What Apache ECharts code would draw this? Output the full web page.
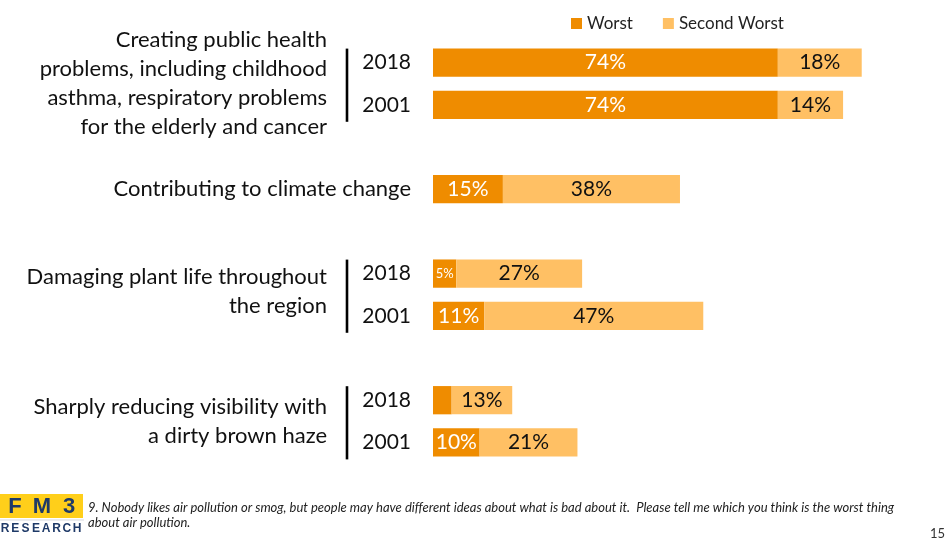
<!DOCTYPE html>
<html>
<head>
<meta charset="utf-8">
<script src="https://cdn.jsdelivr.net/npm/echarts@6/dist/echarts.min.js"></script>
<style>
html,body{margin:0;padding:0;background:#fff;}
#chart{width:948px;height:542px;}
</style>
</head>
<body>
<div id="chart"></div>
<script>
// ---- data ----
const categories = ['2018', '2001', '', 'Contributing to climate change', '', '2018', '2001', '', '2018', '2001'];
const worst = [74, 74, null, 15, null, 5, 11, null, 4, 10];
const secondWorst = [18, 14, null, 38, null, 27, 47, null, 13, 21];
const seriesNames = ['Worst', 'Second Worst'];
const groupLabels = [
  'Creating public health\nproblems, including childhood\nasthma, respiratory problems\nfor the elderly and cancer',
  'Damaging plant life throughout\nthe region',
  'Sharply reducing visibility with\na dirty brown haze'
];
const groupRows = [[0, 1], [5, 6], [8, 9]];
const hiddenWorstLabels = [8];
const smallWorstLabels = [5];
const footnote = '9. Nobody likes air pollution or smog, but people may have different ideas about what is bad about it.  Please tell me which you think is the worst thing\nabout air pollution.';
const pageNumber = '15';
const logoTop = ['F', 'M', '3'];
const logoBottom = ['R', 'E', 'S', 'E', 'A', 'R', 'C', 'H'];

const FONT = 'Lato, "Open Sans", "DejaVu Sans", sans-serif';
const C_WORST = '#EF8C00';
const C_SECOND = '#FFC064';

const chart = echarts.init(document.getElementById('chart'), null, {renderer: 'canvas'});

const worstData = worst.map((v, i) => {
  if (v == null) return null;
  const d = {value: v};
  if (hiddenWorstLabels.includes(i)) d.label = {show: false};
  else if (smallWorstLabels.includes(i)) d.label = {fontSize: 13};
  return d;
});

chart.setOption({
  animation: false,
  textStyle: {fontFamily: FONT},
  legend: {
    data: seriesNames,
    left: 566, top: 10,
    icon: 'rect', itemWidth: 11, itemHeight: 11, itemGap: 30,
    textStyle: {fontSize: 17, color: '#222', fontFamily: FONT}
  },
  grid: {left: 433, right: 49, top: 41.5, bottom: 78.5, containLabel: false},
  xAxis: {type: 'value', min: 0, max: 100, show: false, splitLine: {show: false}},
  yAxis: {
    type: 'category', data: categories, inverse: true,
    axisLine: {show: false}, axisTick: {show: false},
    axisLabel: {fontSize: 21, color: '#111', margin: 22, fontFamily: FONT,
      rich: {}, formatter: function (v) { return v; }}
  },
  series: [
    {
      name: seriesNames[0], type: 'bar', stack: 'a', data: worstData,
      barCategoryGap: '33%',
      itemStyle: {color: C_WORST},
      label: {show: true, position: 'inside', formatter: '{c}%', color: '#fff', fontSize: 21, fontFamily: FONT}
    },
    {
      name: seriesNames[1], type: 'bar', stack: 'a', data: secondWorst,
      itemStyle: {color: C_SECOND},
      label: {show: true, position: 'inside', formatter: '{c}%', color: '#111', fontSize: 21, fontFamily: FONT}
    }
  ]
});

// bigger font for the long single-row category label
chart.setOption({
  yAxis: {axisLabel: {
    formatter: function (v) { return v.length > 6 ? '{big|' + v + '}' : v; },
    rich: {big: {fontSize: 22, color: '#111', fontFamily: FONT}}
  }}
});

// group labels and separators placed from the axis scale
const gLeft = 433;
const elements = [];
groupRows.forEach((rows, gi) => {
  const yA = chart.convertToPixel({yAxisIndex: 0}, rows[0]);
  const yB = chart.convertToPixel({yAxisIndex: 0}, rows[1]);
  const mid = (yA + yB) / 2;
  elements.push({
    type: 'text',
    style: {
      text: groupLabels[gi], x: gLeft - 106, y: mid - (gi === 1 ? 3 : 0),
      textAlign: 'right', align: 'right', textVerticalAlign: 'middle', verticalAlign: 'middle',
      font: '22px ' + FONT, fill: '#111', lineHeight: 29
    }
  });
  elements.push({
    type: 'line',
    shape: {x1: gLeft - 86, y1: yA - 14, x2: gLeft - 86, y2: yB + 17},
    style: {stroke: '#000', lineWidth: 2.6}
  });
});

// footer: logo, footnote, page number
elements.push({type: 'rect', shape: {x: 0, y: 494, width: 83, height: 24}, style: {fill: '#FFCF1A'}});
logoTop.forEach((ch, i) => {
  elements.push({type: 'text', style: {text: ch, x: 15 + i * 27, y: 506.5, textAlign: 'center', align: 'center', textVerticalAlign: 'middle', verticalAlign: 'middle', font: 'bold 22px "Liberation Sans", sans-serif', fill: '#1F3A68'}});
});
logoBottom.forEach((ch, i) => {
  elements.push({type: 'text', style: {text: ch, x: 5 + i * 10.3, y: 529, textAlign: 'center', align: 'center', textVerticalAlign: 'middle', verticalAlign: 'middle', font: 'bold 12px "Liberation Sans", sans-serif', fill: '#1F3A68'}});
});
elements.push({type: 'line', shape: {x1: 0, y1: 520, x2: 84, y2: 520}, style: {stroke: '#d5d8de', lineWidth: 1}});
elements.push({type: 'text', style: {text: footnote, x: 88, y: 500, textAlign: 'left', align: 'left', textVerticalAlign: 'top', verticalAlign: 'top', font: 'italic 13px ' + FONT, fill: '#222', lineHeight: 15}});
elements.push({type: 'text', style: {text: pageNumber, x: 945, y: 534, textAlign: 'right', align: 'right', textVerticalAlign: 'middle', verticalAlign: 'middle', font: '13px ' + FONT, fill: '#333'}});

chart.setOption({graphic: {elements: elements}});
</script>
</body>
</html>
